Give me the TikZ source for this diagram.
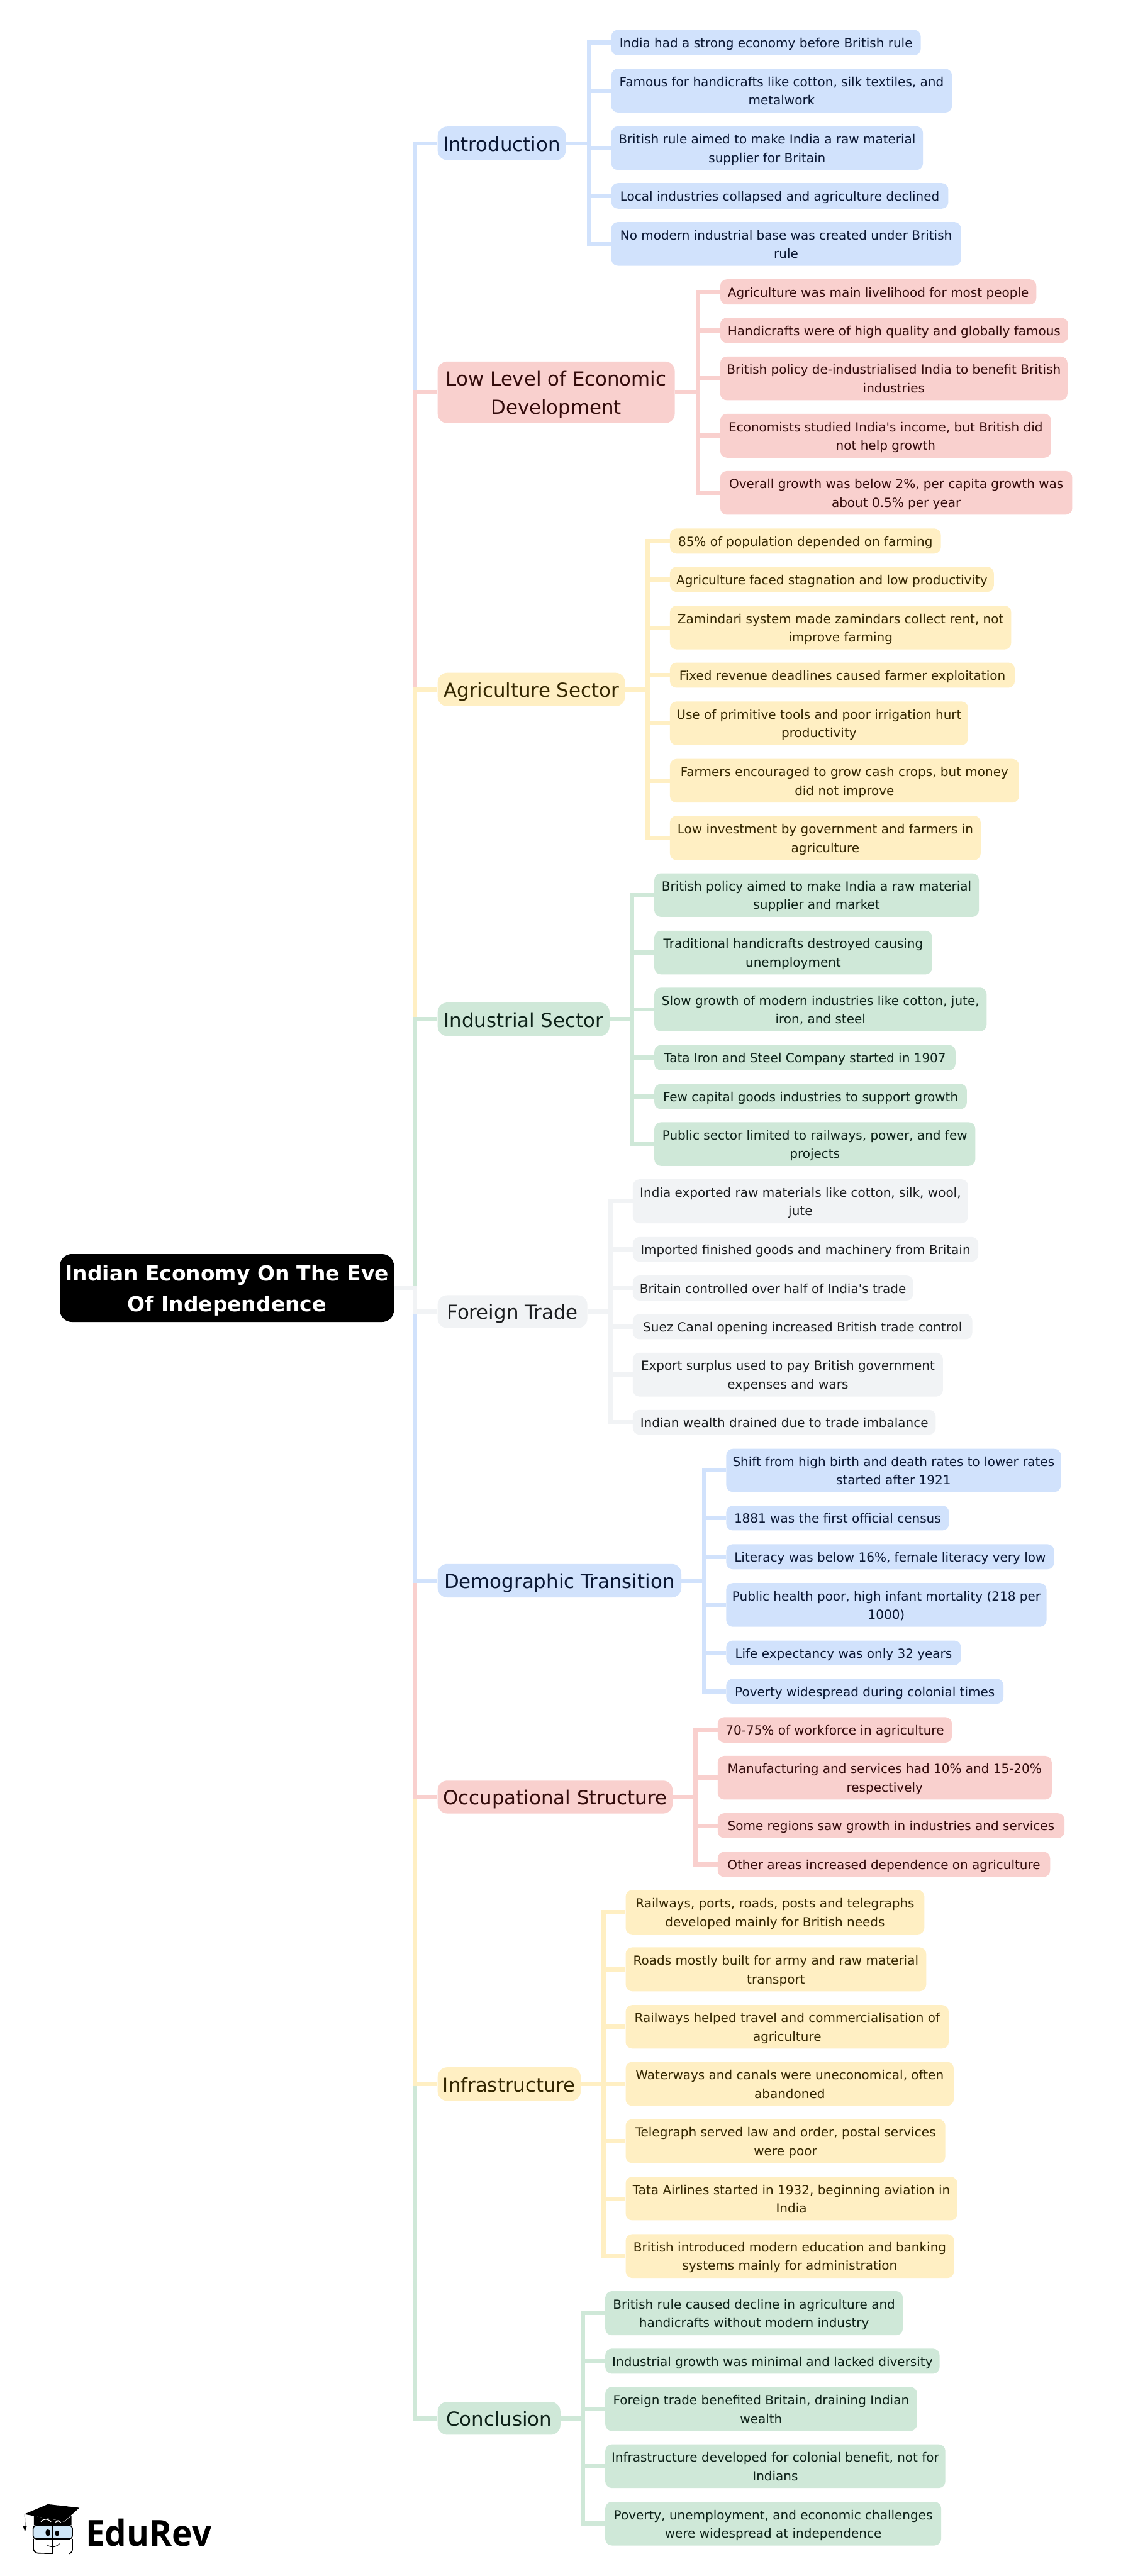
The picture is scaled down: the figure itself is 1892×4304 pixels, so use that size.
\documentclass[tikz,border=0pt]{standalone}
\usepackage{fontspec}
\newfontfamily\dv{DejaVu Sans}
\newfontfamily\logofont{Open Sans}
\definecolor{cblue}{HTML}{D1E2FC}
\definecolor{cpink}{HTML}{F9D0CE}
\definecolor{cyell}{HTML}{FFEFC3}
\definecolor{cgren}{HTML}{CFE8D8}
\definecolor{cgray}{HTML}{F1F3F5}
\definecolor{tblue}{HTML}{0A1733}
\definecolor{tpink}{HTML}{330B0B}
\definecolor{tyell}{HTML}{332600}
\definecolor{tgren}{HTML}{0D2118}
\definecolor{tgray}{HTML}{1B1D1F}
\definecolor{eyeblue}{HTML}{CFE6F7}
\newcommand\leaffont{\dv\fontsize{21}{31}\selectfont}
\newcommand\branchfont{\dv\fontsize{32.4}{47}\selectfont}
\newcommand\rootfont{\dv\bfseries\fontsize{34.6}{51}\selectfont}
\newcommand\st{\rule[\dimexpr .40em-.5\baselineskip\relax]{0pt}{\baselineskip}}
\tikzset{
 leafbox/.style={rectangle,rounded corners=11pt,inner sep=0pt,align=center,font=\leaffont},
 branchbox/.style={rectangle,rounded corners=16pt,inner sep=0pt,align=center,font=\branchfont},
 rootbox/.style={rectangle,rounded corners=20pt,inner sep=0pt,align=center,font=\rootfont,fill=black,text=white},
 fblue/.style={fill=cblue,text=tblue},
 fpink/.style={fill=cpink,text=tpink},
 fyell/.style={fill=cyell,text=tyell},
 fgren/.style={fill=cgren,text=tgren},
 fgray/.style={fill=cgray,text=tgray},
 link/.style={line width=7pt,miter limit=10,line join=miter},
}
% style, name, x1, x2, y1, y2, text
\newcommand\lf[7]{\node[leafbox,#1,minimum width={(#4-#3)*1pt},minimum height={(#6-#5)*1pt}] (#2) at ({(#3+#4)/2},{(#5+#6)/2}) {\st #7\st};}
\newcommand\br[7]{\node[branchbox,#1,minimum width={(#4-#3)*1pt},minimum height={(#6-#5)*1pt}] (#2) at ({(#3+#4)/2},{(#5+#6)/2}) {\st #7\st};}
% colour, branch, spine, number of leaves
\newcommand\fan[4]{\foreach \k in {1,...,#4} {\draw[link,#1] (#2.east) -- (#3 |- #2.east) |- (#2\k.west);}}
\newcommand\trunk[2]{\draw[link,#1] (root.east) -- (m |- root.east) |- (#2.west);}
\begin{document}
\begin{tikzpicture}[x=1pt,y=-1pt]
\useasboundingbox (0,0) rectangle (1892,4304);
\coordinate (m) at (693,0);
\coordinate (s1) at (983.5,0);
\coordinate (s2) at (1166,0);
\coordinate (s3) at (1082,0);
\coordinate (s4) at (1056,0);
\coordinate (s5) at (1019.5,0);
\coordinate (s6) at (1176,0);
\coordinate (s7) at (1161.5,0);
\coordinate (s8) at (1008,0);
\coordinate (s9) at (973.7,0);

\node[rootbox,minimum width=558pt,minimum height=113.5pt] (root) at (379,2152) {\st Indian Economy On The Eve\\Of Independence\st};

\br{fblue}{a}{731}{945}{211.4}{267.4}{Introduction}
\br{fpink}{b}{731}{1127}{604}{707}{Low Level of Economic\\Development}
\br{fyell}{c}{731}{1044}{1124}{1180}{Agriculture Sector}
\br{fgren}{d}{731}{1018}{1675}{1731}{Industrial Sector}
\br{fgray}{e}{731}{981}{2164}{2219}{Foreign Trade}
\br{fblue}{f}{731}{1138}{2613}{2669}{Demographic Transition}
\br{fpink}{g}{731}{1123.5}{2975}{3030}{Occupational Structure}
\br{fyell}{h}{731}{970}{3454}{3510}{Infrastructure}
\br{fgren}{i}{731}{936}{4013}{4068}{Conclusion}

\lf{fblue}{a1}{1021}{1538}{50}{92.4}{India had a strong economy before British rule}
\lf{fblue}{a2}{1021}{1590}{115}{188}{Famous for handicrafts like cotton, silk textiles, and\\metalwork}
\lf{fblue}{a3}{1021}{1541.6}{211}{284}{British rule aimed to make India a raw material\\supplier for Britain}
\lf{fblue}{a4}{1021}{1584}{306}{348.6}{Local industries collapsed and agriculture declined}
\lf{fblue}{a5}{1021}{1605}{371}{444}{No modern industrial base was created under British\\rule}

\lf{fpink}{b1}{1203}{1731}{466.7}{508.7}{Agriculture was main livelihood for most people}
\lf{fpink}{b2}{1203}{1784}{531}{573}{Handicrafts were of high quality and globally famous}
\lf{fpink}{b3}{1203}{1783}{595.7}{668.7}{British policy de-industrialised India to benefit British\\industries}
\lf{fpink}{b4}{1203}{1755.6}{691.3}{764.7}{Economists studied India's income, but British did\\not help growth}
\lf{fpink}{b5}{1203}{1791}{787}{860}{Overall growth was below 2\%, per capita growth was\\about 0.5\% per year}

\lf{fyell}{c1}{1119}{1571.6}{883}{925}{85\% of population depended on farming}
\lf{fyell}{c2}{1119}{1660}{947}{989}{Agriculture faced stagnation and low productivity}
\lf{fyell}{c3}{1119}{1689}{1012}{1085}{Zamindari system made zamindars collect rent, not\\improve farming}
\lf{fyell}{c4}{1119}{1695}{1107}{1149}{Fixed revenue deadlines caused farmer exploitation}
\lf{fyell}{c5}{1119}{1617}{1172}{1245}{Use of primitive tools and poor irrigation hurt\\productivity}
\lf{fyell}{c6}{1119}{1702}{1268}{1341}{Farmers encouraged to grow cash crops, but money\\did not improve}
\lf{fyell}{c7}{1119}{1638}{1363}{1437}{Low investment by government and farmers in\\agriculture}

\lf{fgren}{d1}{1093}{1635}{1459}{1532}{British policy aimed to make India a raw material\\supplier and market}
\lf{fgren}{d2}{1093}{1557}{1555}{1628}{Traditional handicrafts destroyed causing\\unemployment}
\lf{fgren}{d3}{1093}{1648}{1650}{1723}{Slow growth of modern industries like cotton, jute,\\iron, and steel}
\lf{fgren}{d4}{1093}{1596}{1746}{1788}{Tata Iron and Steel Company started in 1907}
\lf{fgren}{d5}{1093}{1615}{1811}{1853}{Few capital goods industries to support growth}
\lf{fgren}{d6}{1093}{1629}{1875}{1948}{Public sector limited to railways, power, and few\\projects}

\lf{fgray}{e1}{1057}{1617}{1970.4}{2043.8}{India exported raw materials like cotton, silk, wool,\\jute}
\lf{fgray}{e2}{1057}{1634}{2066.7}{2108}{Imported finished goods and machinery from Britain}
\lf{fgray}{e3}{1057}{1525}{2131}{2173}{Britain controlled over half of India's trade}
\lf{fgray}{e4}{1057}{1624}{2195.5}{2237.6}{Suez Canal opening increased British trade control}
\lf{fgray}{e5}{1057}{1575}{2260}{2333.3}{Export surplus used to pay British government\\expenses and wars}
\lf{fgray}{e6}{1057}{1563}{2355.6}{2397}{Indian wealth drained due to trade imbalance}

\lf{fblue}{f1}{1213}{1772}{2420.7}{2492.7}{Shift from high birth and death rates to lower rates\\started after 1921}
\lf{fblue}{f2}{1213}{1585}{2515.7}{2557}{1881 was the first official census}
\lf{fblue}{f3}{1213}{1760.5}{2580}{2622}{Literacy was below 16\%, female literacy very low}
\lf{fblue}{f4}{1213}{1748}{2645}{2718}{Public health poor, high infant mortality (218 per\\1000)}
\lf{fblue}{f5}{1213}{1605}{2741}{2782}{Life expectancy was only 32 years}
\lf{fblue}{f6}{1213}{1676}{2805}{2846.7}{Poverty widespread during colonial times}

\lf{fpink}{g1}{1198.7}{1590}{2869}{2911.6}{70-75\% of workforce in agriculture}
\lf{fpink}{g2}{1198.7}{1756.7}{2933.7}{3006.7}{Manufacturing and services had 10\% and 15-20\%\\respectively}
\lf{fpink}{g3}{1198.7}{1778}{3029.5}{3071}{Some regions saw growth in industries and services}
\lf{fpink}{g4}{1198.7}{1754}{3094}{3136}{Other areas increased dependence on agriculture}

\lf{fyell}{h1}{1045}{1544}{3158}{3232}{Railways, ports, roads, posts and telegraphs\\developed mainly for British needs}
\lf{fyell}{h2}{1045}{1547}{3253.7}{3327}{Roads mostly built for army and raw material\\transport}
\lf{fyell}{h3}{1045}{1584.6}{3350}{3422.7}{Railways helped travel and commercialisation of\\agriculture}
\lf{fyell}{h4}{1045}{1593}{3445}{3518.4}{Waterways and canals were uneconomical, often\\abandoned}
\lf{fyell}{h5}{1045}{1579}{3540.7}{3614}{Telegraph served law and order, postal services\\were poor}
\lf{fyell}{h6}{1045}{1599}{3637}{3709.7}{Tata Airlines started in 1932, beginning aviation in\\India}
\lf{fyell}{h7}{1045}{1593.5}{3732.7}{3806}{British introduced modern education and banking\\systems mainly for administration}

\lf{fgren}{i1}{1011}{1508}{3828}{3901.7}{British rule caused decline in agriculture and\\handicrafts without modern industry}
\lf{fgren}{i2}{1011}{1569.4}{3924}{3966}{Industrial growth was minimal and lacked diversity}
\lf{fgren}{i3}{1011}{1531.6}{3988}{4061.7}{Foreign trade benefited Britain, draining Indian\\wealth}
\lf{fgren}{i4}{1011}{1579}{4084}{4157}{Infrastructure developed for colonial benefit, not for\\Indians}
\lf{fgren}{i5}{1011}{1572}{4180}{4253}{Poverty, unemployment, and economic challenges\\were widespread at independence}

% trunk: painted in this order so each colour shows up to its own branch
\trunk{cblue}{a}
\trunk{cpink}{b}
\trunk{cyell}{c}
\trunk{cgren}{d}
\trunk{cgren}{i}
\trunk{cyell}{h}
\trunk{cpink}{g}
\trunk{cblue}{f}
\trunk{cgray}{e}

\fan{cblue}{a}{s1}{5}
\fan{cpink}{b}{s2}{5}
\fan{cyell}{c}{s3}{7}
\fan{cgren}{d}{s4}{6}
\fan{cgray}{e}{s5}{6}
\fan{cblue}{f}{s6}{6}
\fan{cpink}{g}{s7}{4}
\fan{cyell}{h}{s8}{7}
\fan{cgren}{i}{s9}{5}

% logo
\node[font=\logofont\bfseries\fontsize{60}{60}\selectfont,text=black,anchor=base west,inner sep=0pt,xscale=.96,transform shape] (logotext) at (143,4254) {EduRev};
\begin{scope}[shift={(20,4150)},x=0.3333pt,y=-0.3333pt]
 \fill[black] (62,152) -- (180,102) -- (338,120) -- (262,188) -- cycle;
 \fill[black] (110,160) -- (262,190) -- (298,160) -- (298,208) -- (110,208) -- cycle;
 \draw[black,line width=1pt] (64,152) -- (66,210);
 \fill[black] (55,210) -- (75,210) -- (65,241) -- cycle;
 \draw[white,line width=1.2pt] (145,190) .. controls (160,172) and (180,175) .. (196,190);
 \draw[white,line width=1.2pt] (218,192) .. controls (228,184) and (238,186) .. (245,194);
 \draw[black,line width=1.7pt,rounded corners=5pt,fill=eyeblue] (106,209) rectangle (303,276);
 \draw[black,line width=1.7pt,rounded corners=8pt] (107,276) -- (107,347) -- (200,349);
 \draw[black,line width=1.7pt,rounded corners=6pt] (303,276) -- (303,347) -- (290,349);
 \draw[black,line width=1.7pt] (205,205) -- (205,350);
 \fill[black] (180,245) ellipse [x radius=12,y radius=17];
 \fill[black] (226,248) ellipse [x radius=10,y radius=14];
 \draw[black,line width=1.2pt] (175,305) .. controls (195,322) and (220,318) .. (238,300);
 \draw[white,line width=0.7pt] (144,245) -- (156,245) (150,239) -- (150,251);
 \draw[white,line width=0.7pt] (254,245) -- (266,245) (260,239) -- (260,251);
\end{scope}
\end{tikzpicture}
\end{document}
